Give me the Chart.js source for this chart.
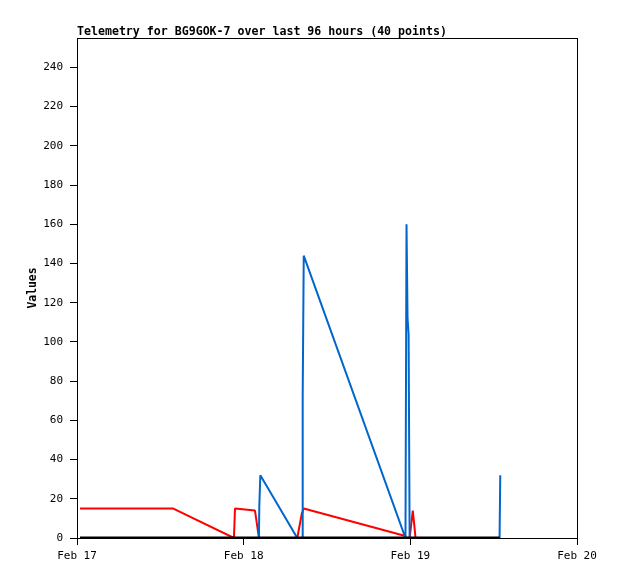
<!DOCTYPE html>
<html>
<head>
<meta charset="utf-8">
<script src="https://cdn.jsdelivr.net/npm/chart.js@4"></script>
<style>
  html, body { margin: 0; padding: 0; background: #fff; }
  canvas { display: block; }
</style>
</head>
<body>
<canvas id="telemetryChart" width="618" height="579"></canvas>
<script>
// hours since Feb 17 00:00
const times = [0.43, 13.87, 22.6, 22.75, 25.63, 26.2, 26.25, 26.4, 31.72, 32.4,
               32.5, 32.65, 47.3, 47.45, 47.6, 47.75, 47.9, 48.1, 48.35, 48.5,
               48.75, 60.85, 60.95];
const redValues = [15, 15, 0, 15, 14, 0, 0, 0, 0, 13,
                   14, 15, 1, 0, 0, 0, 0, 6, 14, 9,
                   0, 0, 0];
const blueValues = [0, 0, 0, 0, 0, 0, 16, 32, 0, 0,
                    72, 144, 0, 160, 112, 104, 0, 0, 0, 0,
                    0, 0, 32];
const blackValues = [0, 0, 0, 0, 0, 0, 0, 0, 0, 0,
                     0, 0, 0, 0, 0, 0, 0, 0, 0, 0,
                     0, 0];
const dayLabels = ['Feb 17', 'Feb 18', 'Feb 19', 'Feb 20'];

const fontFamily = '"DejaVu Sans Mono", "Liberation Mono", monospace';

function toPoints(values) {
    return values.map((v, i) => ({ x: times[i], y: v }));
}

// title, y axis caption and frame
const decorations = {
    id: 'decorations',
    afterDraw(chart) {
        const ctx = chart.ctx;
        const area = chart.chartArea;
        ctx.save();
        ctx.strokeStyle = '#000';
        ctx.lineWidth = 1;
        ctx.strokeRect(area.left + 0.5, area.top + 0.5, area.right - area.left, area.bottom - area.top);

        ctx.fillStyle = '#000';
        ctx.font = 'bold 11.6px ' + fontFamily;
        ctx.textBaseline = 'alphabetic';
        ctx.textAlign = 'left';
        ctx.fillText('Telemetry for BG9GOK-7 over last 96 hours (40 points)', 77, 35);

        ctx.font = 'bold 11.4px ' + fontFamily;
        ctx.translate(36, (area.top + area.bottom) / 2);
        ctx.rotate(-Math.PI / 2);
        ctx.textAlign = 'center';
        ctx.fillText('Values', 0, 0);
        ctx.restore();
    }
};

new Chart(document.getElementById('telemetryChart'), {
    type: 'line',
    data: {
        datasets: [
            { data: toPoints(blackValues), borderColor: '#000000', borderWidth: 3, order: 0 },
            { data: toPoints(blueValues), borderColor: '#0066cc', borderWidth: 2, order: 1 },
            { data: toPoints(redValues), borderColor: '#ff0000', borderWidth: 2, order: 2 }
        ]
    },
    options: {
        responsive: false,
        animation: false,
        layout: { padding: { left: 0, top: 38, right: 41, bottom: 0 } },
        elements: {
            point: { radius: 0 },
            line: { tension: 0, borderJoinStyle: 'bevel', borderCapStyle: 'butt' }
        },
        plugins: {
            legend: { display: false },
            title: { display: false },
            tooltip: { enabled: false }
        },
        scales: {
            x: {
                type: 'linear',
                min: 0,
                max: 72,
                afterFit: s => { s.height = 41; },
                border: { display: true, color: '#000' },
                grid: { drawOnChartArea: false, drawTicks: true, tickLength: 7, color: '#000' },
                ticks: {
                    stepSize: 24,
                    includeBounds: false,
                    maxRotation: 0,
                    padding: 5,
                    color: '#000',
                    font: { family: fontFamily, size: 11 },
                    callback: v => dayLabels[v / 24]
                }
            },
            y: {
                min: 0,
                max: 255,
                afterFit: s => { s.width = 77; },
                border: { display: true, color: '#000' },
                grid: { drawOnChartArea: false, drawTicks: true, tickLength: 7, color: '#000' },
                ticks: {
                    stepSize: 20,
                    includeBounds: false,
                    padding: 7,
                    color: '#000',
                    font: { family: fontFamily, size: 11 }
                }
            }
        }
    },
    plugins: [decorations]
});
</script>
</body>
</html>
